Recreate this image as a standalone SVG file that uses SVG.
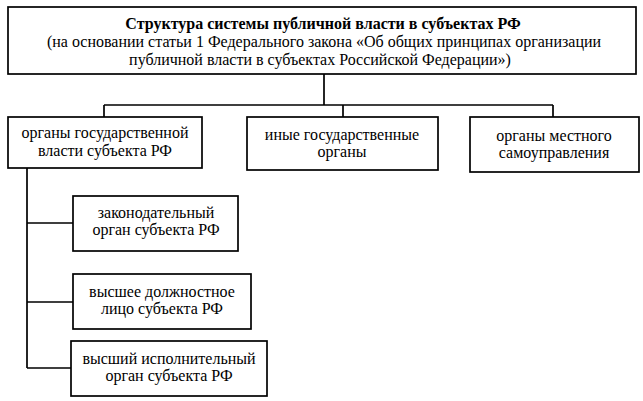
<svg xmlns="http://www.w3.org/2000/svg" width="643" height="401" viewBox="0 0 643 401">
<style>
.box{fill:#fff;stroke:#000;stroke-width:1.7}
.ln{fill:none;stroke:#000;stroke-width:1.7}
.t{font-size:16px;fill:#000;text-anchor:middle}
.b{font-weight:bold}
</style>
<rect width="643" height="401" fill="#fff"/>
<g id="connectors">
<path class="ln" d="M324 74V105M104 105H553M104 105V117M343 105V117M553 105V117"/>
<path class="ln" d="M27 168V368M27 223H73M27 302H73M27 368H71"/>
</g>
<g class="t" font-family="'Liberation Serif', 'Times New Roman', serif">
<g id="title">
<rect class="box" x="8" y="7" width="628" height="67"/>
<text x="323" y="29" class="b">Структура системы публичной власти в субъектах РФ</text>
<text x="324" y="47">(на основании статьи 1 Федерального закона «Об общих принципах организации</text>
<text x="320" y="65">публичной власти в субъектах Российской Федерации»)</text>
</g>
<g id="organy-gos">
<rect class="box" x="8" y="117" width="194" height="51"/>
<text x="105" y="138">органы государственной</text>
<text x="105" y="156">власти субъекта РФ</text>
</g>
<g id="inye">
<rect class="box" x="247" y="117" width="191" height="53"/>
<text x="342" y="140">иные государственные</text>
<text x="342" y="157">органы</text>
</g>
<g id="mestnoe">
<rect class="box" x="470" y="117" width="169" height="55"/>
<text x="554" y="141">органы местного</text>
<text x="554" y="158">самоуправления</text>
</g>
<g id="zakonod">
<rect class="box" x="73" y="196" width="165" height="55"/>
<text x="156" y="218">законодательный</text>
<text x="156" y="235">орган субъекта РФ</text>
</g>
<g id="vysshee">
<rect class="box" x="73" y="274" width="178" height="55"/>
<text x="162" y="297">высшее должностное</text>
<text x="162" y="314">лицо субъекта РФ</text>
</g>
<g id="ispoln">
<rect class="box" x="71" y="341" width="196" height="55"/>
<text x="169" y="364">высший исполнительный</text>
<text x="169" y="381">орган субъекта РФ</text>
</g>
</g>
</svg>
